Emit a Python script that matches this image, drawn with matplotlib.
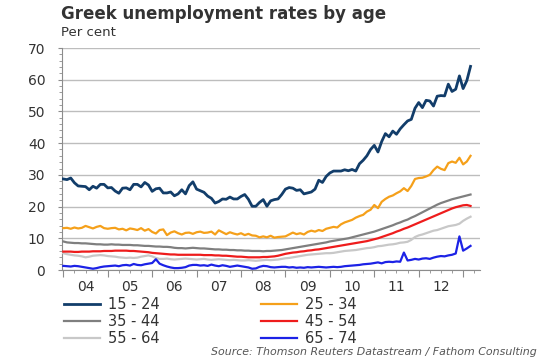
import numpy as np
import matplotlib
matplotlib.use('Agg')
import matplotlib.pyplot as plt
from matplotlib.ticker import MultipleLocator
import matplotlib.transforms as mtransforms

# monthly values, Jan 2004 - Mar 2013 (per cent)
age_15_24 = [28.7, 28.5, 29.0, 27.5, 26.5, 26.4, 26.3, 25.3, 26.4, 25.8, 27.0, 27.0,
             25.9, 26.0, 24.9, 24.2, 25.8, 25.9, 25.3, 27.0, 27.0, 26.2, 27.6, 26.8,
             24.8, 25.6, 25.8, 24.3, 24.3, 24.6, 23.4, 24.0, 25.3, 24.0, 26.6, 27.8,
             25.5, 25.0, 24.5, 23.3, 22.6, 21.1, 21.6, 22.4, 22.3, 23.0, 22.4, 22.4,
             23.2, 23.8, 22.3, 20.1, 20.1, 21.3, 22.2, 20.1, 21.8, 22.2, 22.4, 23.8,
             25.5, 26.0, 25.8, 25.1, 25.3, 24.0, 24.3, 24.6, 25.5, 28.3, 27.6, 29.5,
             30.6, 31.2, 31.2, 31.2, 31.6, 31.3, 31.7, 31.2, 33.5, 34.6, 36.0, 38.0,
             39.3, 37.2, 40.5, 43.0, 42.0, 43.8, 42.8, 44.5, 45.8, 47.0, 47.5, 51.0,
             52.8, 51.2, 53.5, 53.3, 51.7, 54.8, 55.0, 54.9, 58.6, 56.3, 57.0, 61.2,
             57.2, 59.7, 64.2]
age_25_34 = [13.2, 13.3, 13.0, 13.4, 13.1, 13.3, 13.9, 13.5, 13.1, 13.6, 13.9, 13.2,
             13.0, 13.2, 13.3, 12.8, 13.0, 12.5, 13.1, 12.9, 12.6, 13.2, 12.4, 12.9,
             12.0, 11.5, 12.6, 12.8, 11.0, 11.8, 12.2, 11.6, 11.2, 11.7, 11.8, 11.4,
             11.9, 12.1, 11.7, 11.8, 12.1, 11.2, 12.5, 11.9, 11.3, 11.9, 11.5, 11.2,
             11.6, 11.0, 11.4, 10.9, 10.8, 10.3, 10.6, 10.3, 10.8, 10.2, 10.4, 10.5,
             10.6, 11.2, 11.8, 11.3, 11.6, 11.2, 12.0, 12.4, 12.1, 12.6, 12.3, 13.0,
             13.3, 13.6, 13.4, 14.4, 15.0, 15.4, 15.8, 16.5, 17.0, 17.4, 18.4, 19.0,
             20.5, 19.5, 21.5, 22.4, 23.1, 23.5, 24.2, 24.8, 25.8, 24.9, 26.5, 28.7,
             29.0, 29.1, 29.5, 30.0, 31.5, 32.6, 31.9, 31.5, 33.7, 34.2, 33.8, 35.4,
             33.3, 34.2, 36.0]
age_35_44 = [9.0, 8.7, 8.6, 8.5, 8.5, 8.4, 8.4, 8.3, 8.2, 8.1, 8.1, 8.0,
             8.0, 8.1, 8.0, 8.0, 7.9, 7.9, 7.9, 7.8, 7.8, 7.7, 7.6, 7.6,
             7.5, 7.4, 7.4, 7.3, 7.3, 7.2, 7.0, 6.9, 6.9, 6.8, 6.9, 7.0,
             6.9, 6.8, 6.8, 6.7, 6.6, 6.5, 6.5, 6.4, 6.4, 6.3, 6.3, 6.2,
             6.2, 6.1, 6.1, 6.0, 6.0, 6.0, 5.9, 6.0, 6.0, 6.1, 6.2, 6.3,
             6.5, 6.7, 6.9, 7.1, 7.3, 7.5, 7.7, 7.9, 8.1, 8.3, 8.5, 8.7,
             9.0, 9.2, 9.4, 9.6, 9.8, 10.0, 10.3, 10.6, 10.9, 11.2, 11.5, 11.8,
             12.1, 12.5, 12.9, 13.3, 13.7, 14.1, 14.6, 15.0, 15.5, 15.9, 16.5, 17.0,
             17.6, 18.2, 18.8, 19.4, 20.0, 20.6, 21.1, 21.5, 21.9, 22.3, 22.6, 22.9,
             23.2, 23.5, 23.8]
age_45_54 = [5.8, 5.8, 5.8, 5.7, 5.7, 5.8, 5.8, 5.8, 5.9, 5.9, 5.9, 6.0,
             6.0, 6.0, 6.1, 6.1, 6.1, 6.1, 6.0, 6.0, 5.9, 5.8, 5.7, 5.6,
             5.4, 5.3, 5.2, 5.1, 5.0, 4.9, 4.9, 4.8, 4.8, 4.8, 4.8, 4.8,
             4.8, 4.8, 4.7, 4.7, 4.7, 4.6, 4.6, 4.5, 4.5, 4.4, 4.3, 4.2,
             4.2, 4.1, 4.0, 4.0, 4.0, 4.0, 4.1, 4.1, 4.2, 4.3, 4.5, 4.8,
             5.1, 5.3, 5.5, 5.6, 5.8, 5.9, 6.1, 6.2, 6.4, 6.5, 6.7, 6.9,
             7.1, 7.3, 7.5, 7.7, 7.9, 8.1, 8.3, 8.5, 8.7, 8.9, 9.1, 9.4,
             9.7, 10.0, 10.4, 10.8, 11.2, 11.6, 12.1, 12.5, 13.0, 13.4, 13.9, 14.4,
             14.9, 15.4, 15.9, 16.4, 16.9, 17.4, 17.9, 18.4, 18.9, 19.4, 19.8, 20.1,
             20.4, 20.5, 20.2]
age_55_64 = [5.3, 5.0, 4.8, 4.6, 4.5, 4.3, 4.0, 4.2, 4.5, 4.6, 4.7, 4.6,
             4.4, 4.3, 4.2, 4.0, 3.9, 3.8, 3.9, 3.8, 3.9, 4.2, 4.4, 4.6,
             4.3, 3.8, 3.5, 3.5, 3.6, 3.4, 3.3, 3.4, 3.5, 3.6, 3.5, 3.4,
             3.3, 3.4, 3.5, 3.3, 3.2, 3.3, 3.4, 3.3, 3.2, 3.1, 3.2, 3.1,
             3.0, 3.0, 3.1, 3.0, 2.9, 3.0, 3.1, 3.2, 3.1, 3.2, 3.3, 3.5,
             3.7, 3.8, 4.0, 4.2, 4.4, 4.6, 4.8, 4.9, 5.0, 5.1, 5.2, 5.3,
             5.3, 5.4, 5.6, 5.8, 6.0, 6.1, 6.2, 6.3, 6.5, 6.7, 6.9, 7.0,
             7.2, 7.5, 7.6, 7.8, 8.0, 8.1, 8.3, 8.6, 8.7, 8.9, 9.5, 10.4,
             10.9, 11.2, 11.6, 12.0, 12.4, 12.6, 13.0, 13.4, 13.8, 14.0, 14.2, 14.6,
             15.5, 16.2, 16.8]
age_65_74 = [1.3, 1.2, 1.1, 1.3, 1.2, 1.0, 0.8, 0.6, 0.4, 0.6, 0.9, 1.1,
             1.2, 1.3, 1.4, 1.2, 1.5, 1.6, 1.4, 1.9, 1.6, 1.5, 1.8, 2.0,
             2.2, 3.4, 2.0, 1.5, 1.1, 0.8, 0.6, 0.6, 0.7, 0.9, 1.4, 1.6,
             1.6, 1.4, 1.5, 1.3, 1.7, 1.4, 1.2, 1.5, 1.3, 1.0, 1.2, 1.4,
             1.2, 1.0, 0.8, 0.4, 0.5, 1.0, 1.3, 1.2, 0.9, 0.8, 0.9, 1.0,
             1.0, 0.8, 0.9, 0.7, 0.8, 0.7, 0.9, 0.8, 0.9, 1.0, 0.9, 0.8,
             0.9, 1.0, 0.9, 1.0, 1.2, 1.3, 1.4, 1.5, 1.6, 1.8, 1.9, 2.0,
             2.2, 2.4, 2.1, 2.5, 2.6, 2.5, 2.7, 2.6, 5.5, 3.0, 3.2, 3.5,
             3.3, 3.6, 3.7, 3.5, 3.9, 4.2, 4.4, 4.3, 4.6, 4.8, 5.2, 10.6,
             6.1, 6.8, 7.6]

years = ['04', '05', '06', '07', '08', '09', '10', '11', '12']
series = [
    ('15 - 24', age_15_24, '#123d6a', 2.0),
    ('35 - 44', age_35_44, '#7f7f7f', 1.6),
    ('55 - 64', age_55_64, '#c8c8c8', 1.6),
    ('25 - 34', age_25_34, '#f5a01a', 1.6),
    ('45 - 54', age_45_54, '#ee1c1c', 1.6),
    ('65 - 74', age_65_74, '#1c22e6', 1.6),
]

t = 2004 + np.arange(len(age_15_24)) / 12.0

fig = plt.figure(figsize=(5.42, 3.62), dpi=100)
ax = fig.add_axes([62 / 542, 1 - 270 / 362, 418 / 542, 222 / 362])

handles = []
for name, vals, col, lw in series:
    h, = ax.plot(t, vals, color=col, linewidth=lw, label=name, zorder=3)
    handles.append(h)

ax.set_ylim(0, 70)
ax.set_xlim(2003.97, 2013.38)
ax.yaxis.set_major_locator(MultipleLocator(10))
ax.yaxis.set_minor_locator(MultipleLocator(2))
ax.grid(True, axis='y', color='#bdbdbd', linewidth=1.0)
ax.set_axisbelow(True)

for s in ['top', 'right']:
    ax.spines[s].set_visible(False)
for s in ['left', 'bottom']:
    ax.spines[s].set_color('#8c8c8c')
    ax.spines[s].set_linewidth(0.8)

ax.set_xticks(np.arange(2004, 2014))
ax.set_xticks(np.arange(2004, 2013.4, 0.25), minor=True)
ax.set_xticklabels([])
ax.tick_params(axis='x', which='major', length=5, color='#8c8c8c', direction='out')
ax.tick_params(axis='x', which='minor', length=2.5, color='#8c8c8c', direction='out')
ax.tick_params(axis='y', which='major', length=3, color='#8c8c8c', labelsize=10,
               labelcolor='#333333', pad=9)
ax.tick_params(axis='y', which='minor', length=2, color='#8c8c8c')

trans = mtransforms.blended_transform_factory(ax.transData, ax.transAxes)
for k, lab in enumerate(years):
    ax.text(2004.5 + k, -0.045, lab, transform=trans, ha='center', va='top',
            fontsize=10, color='#333333')

fig.text(61 / 542, 1 - 14 / 362, 'Greek unemployment rates by age', fontsize=12,
         fontweight='bold', color='#333333', va='center', ha='left')
fig.text(61 / 542, 1 - 33 / 362, 'Per cent', fontsize=9.5, color='#333333',
         va='center', ha='left')

fig.legend(handles=handles, loc='upper left', bbox_to_anchor=(64 / 542, 1 - 297 / 362),
           ncol=2, frameon=False, fontsize=10.5, handlelength=2.5, handletextpad=0.55,
           labelspacing=0.14, columnspacing=6.9, borderpad=0, borderaxespad=0,
           labelcolor='#333333')

fig.text(537 / 542, 1 - 352 / 362, 'Source: Thomson Reuters Datastream / Fathom Consulting',
         fontsize=7.9, style='italic', color='#555555', ha='right', va='center')

fig.savefig('out.png', dpi=100)
